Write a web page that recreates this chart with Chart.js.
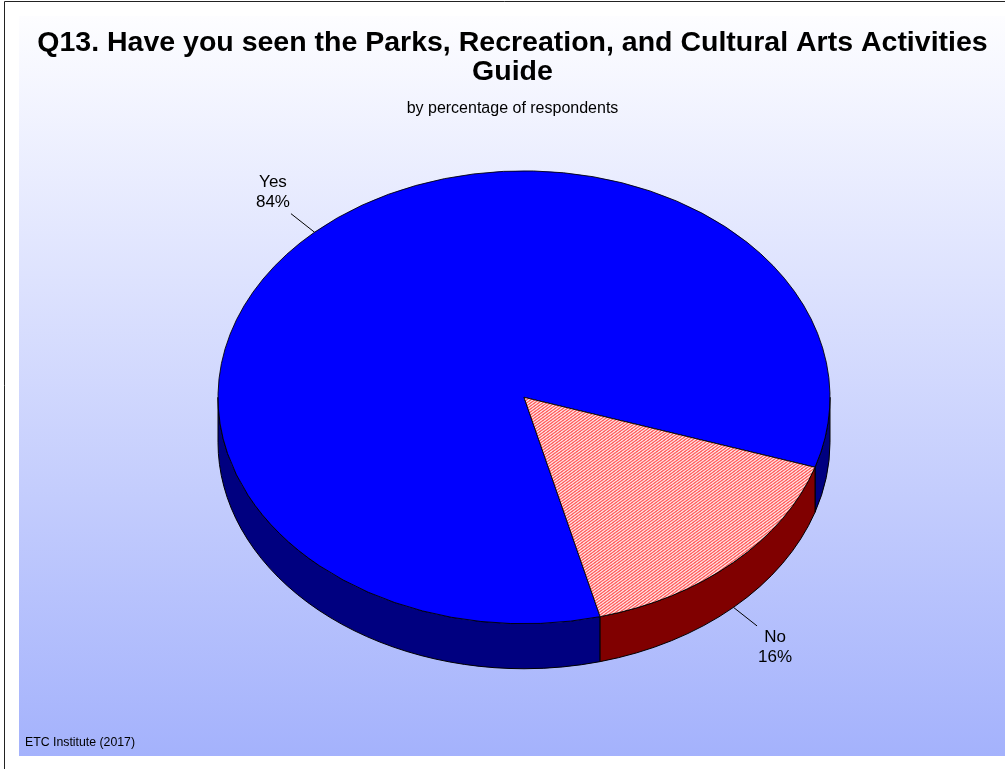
<!DOCTYPE html>
<html>
<head>
<meta charset="utf-8">
<title>Q13 Activities Guide</title>
<script src="https://cdn.jsdelivr.net/npm/chart.js@4"></script>
<style>
  html, body { margin: 0; padding: 0; background: #fff; }
  #wrap { width: 1005px; height: 769px; }
</style>
</head>
<body>
<div id="wrap"><canvas id="pie" width="1005" height="769"></canvas></div>
<script>
"use strict";
const TITLE_LINES = [
  "Q13. Have you seen the Parks, Recreation, and Cultural Arts Activities",
  "Guide",
];
const SUBTITLE = "by percentage of respondents";
const FOOTER = "ETC Institute (2017)";

const answers = ["Yes", "No"];
const percents = [84, 16];

const FONT = "Arial, 'Liberation Sans', Helvetica, sans-serif";
const TILT = 0.74; // vertical squash of the pie top
const DEPTH = 45; // thickness of the pie wall
const SHIFT_X = 11.5; // pie sits a little right of the titles
const LEADER = 30;

// red diagonal hatch for the "No" slice
function hatch() {
  const c = document.createElement("canvas");
  c.width = 4;
  c.height = 4;
  const g = c.getContext("2d");
  g.fillStyle = "#fff";
  g.fillRect(0, 0, 4, 4);
  g.strokeStyle = "#ff0000";
  g.lineWidth = 1.1;
  g.beginPath();
  g.moveTo(-1, 5);
  g.lineTo(5, -1);
  g.moveTo(-1, 1);
  g.lineTo(1, -1);
  g.moveTo(3, 5);
  g.lineTo(5, 3);
  g.stroke();
  return g.createPattern(c, "repeat");
}

const topColors = ["#0000ff", hatch()];
const sideColors = ["#000080", "#800000"];

const backdrop = {
  id: "backdrop",
  beforeDraw(chart) {
    const ctx = chart.ctx;
    const w = chart.width, h = chart.height;
    ctx.save();
    ctx.fillStyle = "#fff";
    ctx.fillRect(0, 0, w, h);
    const grad = ctx.createLinearGradient(0, 16, 0, 756);
    grad.addColorStop(0, "#fdfdff");
    grad.addColorStop(1, "#a4b2fc");
    ctx.fillStyle = grad;
    ctx.fillRect(19, 16, w - 19, 740);
    ctx.strokeStyle = "#222";
    ctx.lineWidth = 1;
    ctx.beginPath();
    ctx.moveTo(4.5, h);
    ctx.lineTo(4.5, 1.5);
    ctx.lineTo(w, 1.5);
    ctx.stroke();
    ctx.restore();
  },
  afterDraw(chart) {
    const ctx = chart.ctx;
    ctx.save();
    ctx.fillStyle = "#000";
    ctx.font = "12.3px " + FONT;
    ctx.textAlign = "left";
    ctx.textBaseline = "middle";
    ctx.fillText(FOOTER, 25, 743);
    ctx.restore();
  },
};

// walls under the front half, then squash the top face
let squashed = false;
const pie3d = {
  id: "pie3d",
  beforeDatasetsDraw(chart) {
    const arcs = chart.getDatasetMeta(0).data;
    if (!arcs.length) return;
    const ctx = chart.ctx;
    const { x: x0, y: cy, outerRadius: r } = arcs[0];
    const cx = x0 + SHIFT_X;
    const ry = r * TILT;
    ctx.save();
    ctx.lineWidth = 1;
    ctx.strokeStyle = "#000";
    arcs.forEach((arc, i) => {
      for (let k = -1; k <= 2; k++) {
        const a = Math.max(arc.startAngle - k * 2 * Math.PI, 0);
        const b = Math.min(arc.endAngle - k * 2 * Math.PI, Math.PI);
        if (b <= a) continue;
        ctx.beginPath();
        ctx.ellipse(cx, cy, r, ry, 0, a, b);
        ctx.ellipse(cx, cy + DEPTH, r, ry, 0, b, a, true);
        ctx.closePath();
        ctx.fillStyle = sideColors[i];
        ctx.fill();
        ctx.stroke();
      }
    });
    ctx.restore();
    ctx.save();
    ctx.translate(cx, cy);
    ctx.scale(1, TILT);
    ctx.translate(-x0, -cy);
    squashed = true;
  },
  afterDatasetsDraw(chart) {
    if (squashed) chart.ctx.restore();
    squashed = false;
  },
  afterDraw(chart) {
    const arcs = chart.getDatasetMeta(0).data;
    const ctx = chart.ctx;
    ctx.save();
    ctx.strokeStyle = "#000";
    ctx.lineWidth = 1;
    ctx.fillStyle = "#000";
    ctx.font = "17px " + FONT;
    ctx.textAlign = "center";
    ctx.textBaseline = "middle";
    arcs.forEach((arc, i) => {
      const m = (arc.startAngle + arc.endAngle) / 2;
      const cos = Math.cos(m), sin = Math.sin(m);
      const px = arc.x + SHIFT_X + arc.outerRadius * cos;
      const py = arc.y + arc.outerRadius * TILT * sin + (sin > 0 ? DEPTH : 0);
      const len = Math.hypot(cos, sin * TILT);
      const ex = px + (cos / len) * LEADER;
      const ey = py + ((sin * TILT) / len) * LEADER;
      ctx.beginPath();
      ctx.moveTo(px, py);
      ctx.lineTo(ex, ey);
      ctx.stroke();
      const tx = ex + Math.sign(cos) * 18;
      const ty = ey + Math.sign(sin) * 21;
      ctx.fillText(answers[i], tx, ty - 10);
      ctx.fillText(percents[i] + "%", tx, ty + 10);
    });
    ctx.restore();
  },
};

new Chart(document.getElementById("pie"), {
  type: "pie",
  data: {
    labels: answers,
    datasets: [
      {
        data: percents,
        backgroundColor: topColors,
        borderColor: "#000",
        borderWidth: 1,
        clip: false,
      },
    ],
  },
  options: {
    responsive: false,
    animation: false,
    events: [],
    rotation: 165.6,
    radius: 306,
    layout: { padding: { top: 16, left: 20, right: 0, bottom: 93 } },
    plugins: {
      legend: { display: false },
      tooltip: { enabled: false },
      title: {
        display: true,
        text: TITLE_LINES,
        color: "#000",
        font: { family: FONT, size: 28.5, weight: "bold", lineHeight: 1.0 },
        padding: { top: 13, bottom: 13.4 },
      },
      subtitle: {
        display: true,
        text: SUBTITLE,
        color: "#000",
        font: { family: FONT, size: 16, lineHeight: 1.2 },
        padding: { top: 0, bottom: 0 },
      },
    },
  },
  plugins: [backdrop, pie3d],
});
</script>
</body>
</html>
